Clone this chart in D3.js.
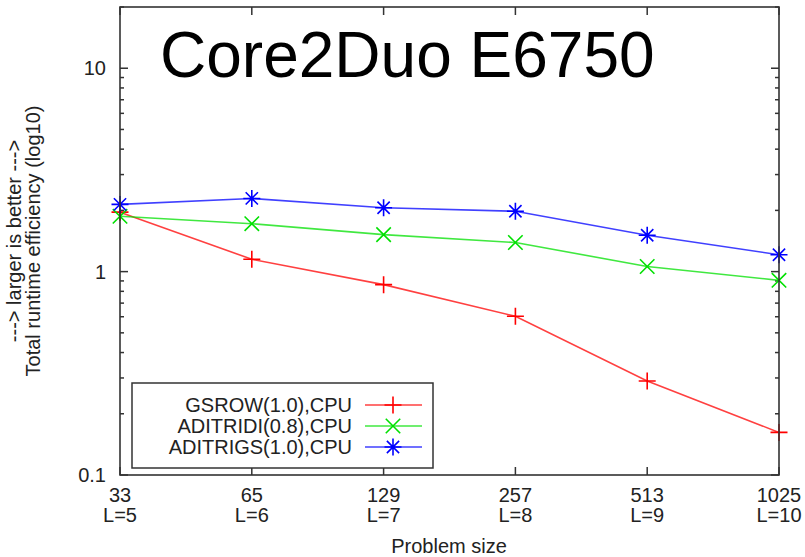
<!DOCTYPE html>
<html>
<head>
<meta charset="utf-8">
<script src="https://cdn.jsdelivr.net/npm/d3@7"></script>
<style>
  html, body { margin: 0; padding: 0; background: #fff; }
  svg { display: block; font-family: "Liberation Sans", Arial, Helvetica, sans-serif; }
</style>
</head>
<body>
<svg id="chart" width="805" height="557"></svg>
<script>
// Problem sizes (grid points) and their refinement levels
const sizes = ["33", "65", "129", "257", "513", "1025"];
const levels = ["L=5", "L=6", "L=7", "L=8", "L=9", "L=10"];

// Total runtime efficiency per solver (log scale)
const gsrow = [1.96, 1.15, 0.863, 0.603, 0.29, 0.162];
const aditridi = [1.87, 1.72, 1.52, 1.39, 1.06, 0.906];
const aditrigs = [2.14, 2.29, 2.06, 1.98, 1.51, 1.21];

const seriesNames = ["GSROW(1.0),CPU", "ADITRIDI(0.8),CPU", "ADITRIGS(1.0),CPU"];
const yTickValues = [0.1, 1, 10];
const yTickLabels = ["0.1", "1", "10"];

const series = [
  { name: seriesNames[0], values: gsrow, color: "#ff0000", marker: "plus" },
  { name: seriesNames[1], values: aditridi, color: "#00e000", marker: "cross" },
  { name: seriesNames[2], values: aditrigs, color: "#0000ff", marker: "star" }
];

const svg = d3.select("#chart");
const plotLeft = 120, plotRight = 779, plotTop = 7, plotBottom = 475;

const x = d3.scalePoint().domain(sizes).range([plotLeft, plotRight]);
const y = d3.scaleLog().domain([0.1, 20]).range([plotBottom, plotTop]);

const frameColor = "#333";
const textColor = "#222";
const fontSize = 20;

// minor ticks at 2..9 of each decade
const minorTicks = [];
[0.1, 1, 10].forEach(d => {
  for (let k = 2; k <= 9; k++) {
    const v = d * k;
    if (v <= 20) minorTicks.push(v);
  }
});

const axes = svg.append("g");

// left and right y ticks (pointing inward)
function yTicks(xPos, dir) {
  axes.selectAll(null).data(yTickValues).enter().append("line")
    .attr("x1", xPos).attr("x2", xPos + dir * 8)
    .attr("y1", d => y(d)).attr("y2", d => y(d))
    .attr("stroke", frameColor).attr("stroke-width", 1.5);
  axes.selectAll(null).data(minorTicks).enter().append("line")
    .attr("x1", xPos).attr("x2", xPos + dir * 4)
    .attr("y1", d => y(d)).attr("y2", d => y(d))
    .attr("stroke", frameColor).attr("stroke-width", 1.5);
}
yTicks(plotLeft, 1);
yTicks(plotRight, -1);

// bottom and top x ticks
function xTicks(yPos, dir) {
  axes.selectAll(null).data(sizes).enter().append("line")
    .attr("x1", d => x(d)).attr("x2", d => x(d))
    .attr("y1", yPos).attr("y2", yPos + dir * 8)
    .attr("stroke", frameColor).attr("stroke-width", 1.5);
}
xTicks(plotBottom, -1);
xTicks(plotTop, 1);

// y tick labels
axes.selectAll(null).data(yTickValues).enter().append("text")
  .attr("x", plotLeft - 14).attr("y", d => y(d))
  .attr("dy", "0.36em")
  .attr("text-anchor", "end")
  .attr("font-size", fontSize).attr("fill", textColor)
  .text((d, i) => yTickLabels[i]);

// x tick labels, two lines each
const xl = axes.selectAll(null).data(sizes).enter().append("text")
  .attr("text-anchor", "middle")
  .attr("font-size", fontSize).attr("fill", textColor);
xl.append("tspan").attr("x", d => x(d)).attr("y", 502).text(d => d);
xl.append("tspan").attr("x", d => x(d)).attr("y", 522).text((d, i) => levels[i]);

// axis titles
svg.append("text")
  .attr("x", 449).attr("y", 553)
  .attr("text-anchor", "middle")
  .attr("font-size", fontSize).attr("fill", textColor)
  .text("Problem size");

const yt = svg.append("text")
  .attr("transform", "translate(0,241) rotate(-90)")
  .attr("text-anchor", "middle")
  .attr("font-size", fontSize).attr("fill", textColor);
yt.append("tspan").attr("x", 0).attr("y", 21).text("---> larger is better --->");
yt.append("tspan").attr("x", 0).attr("y", 40).text("Total runtime efficiency (log10)");

// chart title inside the frame
svg.append("text")
  .attr("x", 160).attr("y", 77)
  .attr("font-size", 64).attr("fill", "#000")
  .text("Core2Duo E6750");

// marker shapes
function markerPath(type, s) {
  const p = d3.path();
  if (type === "plus" || type === "star") {
    p.moveTo(-s, 0); p.lineTo(s, 0);
    p.moveTo(0, -s); p.lineTo(0, s);
  }
  if (type === "cross" || type === "star") {
    const c = type === "star" ? s * 0.72 : s * 0.85;
    p.moveTo(-c, -c); p.lineTo(c, c);
    p.moveTo(-c, c); p.lineTo(c, -c);
  }
  return p.toString();
}

const line = d3.line().x((d, i) => x(sizes[i])).y(d => y(d));

const plot = svg.append("g");
series.forEach(s => {
  plot.append("path")
    .attr("d", line(s.values))
    .attr("fill", "none")
    .attr("stroke", s.color).attr("stroke-opacity", 0.75)
    .attr("stroke-width", 1.6);
  plot.selectAll(null).data(s.values).enter().append("path")
    .attr("transform", (d, i) => `translate(${x(sizes[i])},${y(d)})`)
    .attr("d", markerPath(s.marker, 8.5))
    .attr("fill", "none")
    .attr("stroke", s.color).attr("stroke-width", 1.6);
});

// legend
const legend = svg.append("g");
legend.append("rect")
  .attr("x", 132).attr("y", 383).attr("width", 301).attr("height", 85)
  .attr("fill", "#fff").attr("stroke", frameColor).attr("stroke-width", 1.5);
series.forEach((s, i) => {
  const cy = 405 + i * 21;
  legend.append("text")
    .attr("x", 352).attr("y", cy).attr("dy", "0.36em")
    .attr("text-anchor", "end")
    .attr("font-size", fontSize).attr("fill", textColor)
    .text(s.name);
  legend.append("line")
    .attr("x1", 365).attr("x2", 422).attr("y1", cy).attr("y2", cy)
    .attr("stroke", s.color).attr("stroke-opacity", 0.75).attr("stroke-width", 1.6);
  legend.append("path")
    .attr("transform", `translate(393,${cy})`)
    .attr("d", markerPath(s.marker, 8.5))
    .attr("fill", "none")
    .attr("stroke", s.color).attr("stroke-width", 1.6);
});

// plot frame
svg.append("rect")
  .attr("x", plotLeft).attr("y", plotTop)
  .attr("width", plotRight - plotLeft).attr("height", plotBottom - plotTop)
  .attr("fill", "none").attr("stroke", frameColor).attr("stroke-width", 1.6);
</script>
</body>
</html>
